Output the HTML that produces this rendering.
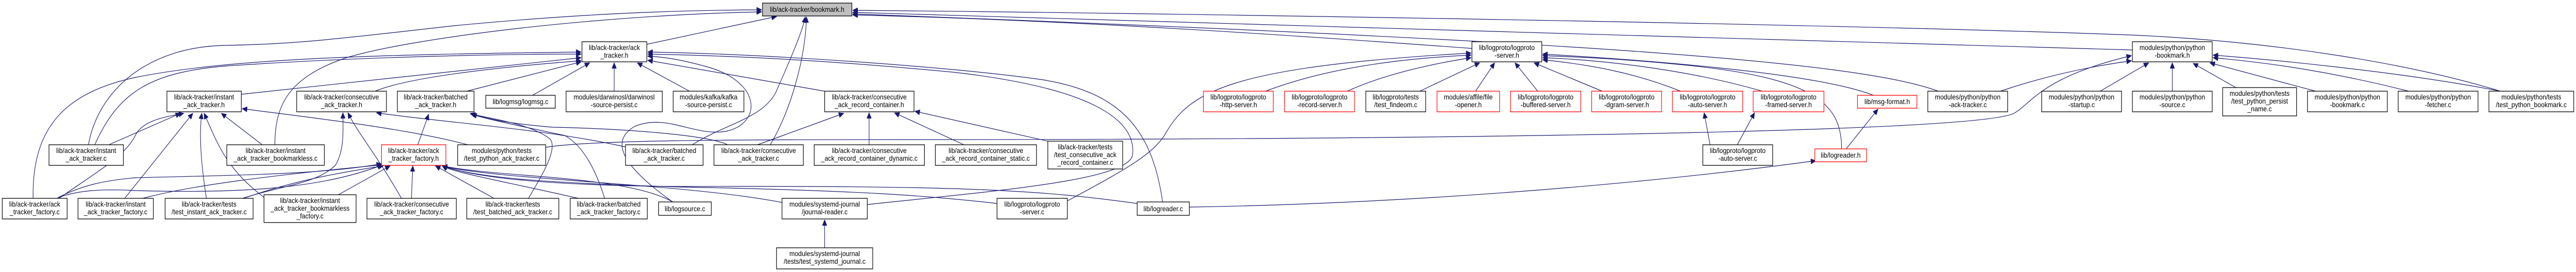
<!DOCTYPE html>
<html><head><meta charset="utf-8"><style>
html,body{margin:0;padding:0;background:#fff;overflow:hidden;width:100%;height:100%;}
svg{display:block;position:absolute;left:0;top:0;width:100vw;height:100vh;}
text{font-family:"Liberation Sans",sans-serif;font-size:14px;fill:#000;}
.n{fill:#fff;stroke:#000;stroke-width:1.3;}
.r{fill:#fff;stroke:#ff0000;stroke-width:1.3;}
.g{fill:#bfbfbf;stroke:#000;stroke-width:1.3;}
path{fill:none;stroke:#191970;stroke-width:1.2;}
</style></head><body>
<svg viewBox="0 0 5679 528" preserveAspectRatio="none" xmlns="http://www.w3.org/2000/svg">
<defs><marker id="a" markerUnits="userSpaceOnUse" markerWidth="12" markerHeight="10" refX="11" refY="5" orient="auto"><path d="M0,0 L11,5 L0,10 z" style="fill:#191970;stroke:#191970;stroke-width:1"/></marker></defs>
<g marker-end="url(#a)">
<path d="M1426,86 L1712,32"/>
<path d="M195,281 C215,180 320,90 500,88 C650,86 750,75 1000,50 C1300,25 1500,20 1679,19"/>
<path d="M606,281 C606,200 640,150 760,113 C900,75 1300,30 1679,23"/>
<path d="M1526,281 C1600,240 1680,230 1710,180 C1740,120 1770,60 1775,33"/>
<path d="M1698,281 C1740,220 1775,120 1778,33"/>
<path d="M5512,177 C5300,120 5000,80 4700,68 C4000,45 2500,25 1880,20"/>
<path d="M4701,97 C4000,80 2500,40 1880,24"/>
<path d="M4273,177 C4100,120 3500,80 1880,27"/>
<path d="M3245,94 C2900,72 2400,40 1880,29"/>
<path d="M532,183 L1281,112"/>
<path d="M827,177 C900,150 1100,130 1281,118"/>
<path d="M1029,177 L1281,120"/>
<path d="M1174,185 L1300,122"/>
<path d="M1354,177 L1354,122"/>
<path d="M1520,177 L1405,122"/>
<path d="M1818,177 L1428,117"/>
<path d="M73,385 C70,250 140,180 300,150 C500,115 800,106 1281,101"/>
<path d="M209,281 C260,180 330,140 500,128 C800,110 1100,105 1281,105"/>
<path d="M2563,392 C2540,250 2470,180 2300,155 C2100,130 1700,105 1428,101"/>
<path d="M1912,397 C2200,370 2490,350 2497,300 C2505,230 2400,170 2100,140 C1800,115 1600,108 1428,105"/>
<path d="M1483,392 C1400,340 1330,280 1400,245 C1470,220 1530,265 1600,255 C1680,240 1680,160 1560,130 C1500,115 1460,110 1428,109"/>
<path d="M240,281 L398,220"/>
<path d="M130,385 C220,330 280,300 300,260 C320,230 380,225 405,220"/>
<path d="M275,385 L425,220"/>
<path d="M455,385 C440,300 440,250 445,220"/>
<path d="M585,385 C500,330 480,280 450,220"/>
<path d="M578,281 L488,220"/>
<path d="M1031,281 C900,250 700,230 534,211"/>
<path d="M535,385 C620,360 700,357 740,320 C760,290 756,250 756,219"/>
<path d="M885,385 C830,300 790,260 767,219"/>
<path d="M1378,285 C1200,250 1000,240 830,219"/>
<path d="M921,281 L945,222"/>
<path d="M1604,281 C1560,262 1380,250 1219,247 C1120,240 1070,230 1037,220"/>
<path d="M1165,385 C1195,340 1230,290 1213,270 C1170,240 1080,230 1037,221"/>
<path d="M1333,385 C1310,320 1280,280 1245,263 C1120,240 1070,230 1040,222"/>
<path d="M127,384 C180,360 230,350 300,345 C500,340 700,340 841,318"/>
<path d="M127,384 C170,370 220,366 300,370 C500,375 700,370 843,320"/>
<path d="M315,385 C420,360 600,340 843,320"/>
<path d="M537,385 C650,350 750,335 845,322"/>
<path d="M742,380 L860,322"/>
<path d="M907,385 L910,322"/>
<path d="M1089,385 L960,322"/>
<path d="M1275,385 C1100,350 1000,335 975,322"/>
<path d="M1483,392 C1380,340 1100,345 975,322"/>
<path d="M1724,393 C1500,355 1100,350 975,322"/>
<path d="M2198,395 C2050,380 1900,370 1500,363 C1200,355 1050,345 975,322"/>
<path d="M2507,395 C2300,370 2150,360 1500,362 C1200,360 1050,345 975,322"/>
<path d="M1916,281 L1916,219"/>
<path d="M2125,281 L1972,219"/>
<path d="M2310,274 L2017,216"/>
<path d="M1670,281 L1860,220"/>
<path d="M2790,177 C2900,140 3050,115 3243,107"/>
<path d="M2970,177 C3050,145 3150,125 3243,112"/>
<path d="M3130,177 L3262,122"/>
<path d="M3253,177 L3295,122"/>
<path d="M3390,177 L3340,122"/>
<path d="M3532,177 L3382,122"/>
<path d="M3705,177 C3600,140 3500,125 3401,116"/>
<path d="M3885,177 C3700,130 3500,115 3401,112"/>
<path d="M4130,185 C4000,140 3600,115 3401,105"/>
<path d="M4060,289 C4060,200 4000,150 3700,125 C3550,112 3450,110 3401,108"/>
<path d="M2353,390 C2480,330 2540,300 2567,263 C2620,180 2700,130 3243,103"/>
<path d="M3770,281 L3757,219"/>
<path d="M3830,281 L3868,219"/>
<path d="M4070,289 L4140,212"/>
<path d="M2622,402 C3100,395 3600,360 4003,312"/>
<path d="M1203,286 C1300,272 1600,271 2000,271 C3000,271 4350,260 4440,220 C4480,200 4500,150 4699,108"/>
<path d="M4410,177 C4500,150 4600,130 4699,118"/>
<path d="M4630,177 L4737,122"/>
<path d="M4789,177 L4789,122"/>
<path d="M4929,170 L4835,123"/>
<path d="M5105,177 L4872,122"/>
<path d="M5310,177 C5100,130 4950,118 4879,112"/>
<path d="M5512,177 C5300,140 5000,115 4879,107"/>
<path d="M1818,481 L1818,427"/>
</g>

<rect class="g" x="1681" y="6" width="197" height="25"/><text x="1779.5" y="23" text-anchor="middle">lib/ack-tracker/bookmark.h</text>

<g text-anchor="middle">
<rect class="n" x="1283" y="81" width="143" height="39"/><text x="1354.5" y="97">lib/ack-tracker/ack</text><text x="1354.5" y="112">_tracker.h</text>
<rect class="n" x="3245" y="81" width="154" height="39"/><text x="3322" y="97">lib/logproto/logproto</text><text x="3322" y="112">-server.h</text>
<rect class="n" x="4701" y="81" width="176" height="39"/><text x="4789" y="97">modules/python/python</text><text x="4789" y="112">-bookmark.h</text>

<rect class="n" x="368" y="177" width="164" height="40"/><text x="450" y="193">lib/ack-tracker/instant</text><text x="450" y="208">_ack_tracker.h</text>
<rect class="n" x="654" y="177" width="198" height="40"/><text x="753" y="193">lib/ack-tracker/consecutive</text><text x="753" y="208">_ack_tracker.h</text>
<rect class="n" x="876" y="177" width="169" height="40"/><text x="960.5" y="193">lib/ack-tracker/batched</text><text x="960.5" y="208">_ack_tracker.h</text>
<rect class="n" x="1071" y="185" width="153" height="25"/><text x="1147.5" y="202">lib/logmsg/logmsg.c</text>
<rect class="n" x="1248" y="177" width="212" height="40"/><text x="1354" y="193">modules/darwinosl/darwinosl</text><text x="1354" y="208">-source-persist.c</text>
<rect class="n" x="1484" y="177" width="156" height="40"/><text x="1562" y="193">modules/kafka/kafka</text><text x="1562" y="208">-source-persist.c</text>
<rect class="n" x="1818" y="177" width="197" height="40"/><text x="1916.5" y="193">lib/ack-tracker/consecutive</text><text x="1916.5" y="208">_ack_record_container.h</text>
<rect class="r" x="2653" y="177" width="154" height="40"/><text x="2730" y="193">lib/logproto/logproto</text><text x="2730" y="208">-http-server.h</text>
<rect class="r" x="2832" y="177" width="154" height="40"/><text x="2909" y="193">lib/logproto/logproto</text><text x="2909" y="208">-record-server.h</text>
<rect class="n" x="3011" y="177" width="132" height="40"/><text x="3077" y="193">lib/logproto/tests</text><text x="3077" y="208">/test_findeom.c</text>
<rect class="r" x="3168" y="177" width="138" height="40"/><text x="3237" y="193">modules/affile/file</text><text x="3237" y="208">-opener.h</text>
<rect class="r" x="3330" y="177" width="155" height="40"/><text x="3407.5" y="193">lib/logproto/logproto</text><text x="3407.5" y="208">-buffered-server.h</text>
<rect class="r" x="3509" y="177" width="154" height="40"/><text x="3586" y="193">lib/logproto/logproto</text><text x="3586" y="208">-dgram-server.h</text>
<rect class="r" x="3687" y="177" width="155" height="40"/><text x="3764.5" y="193">lib/logproto/logproto</text><text x="3764.5" y="208">-auto-server.h</text>
<rect class="r" x="3865" y="177" width="156" height="40"/><text x="3943" y="193">lib/logproto/logproto</text><text x="3943" y="208">-framed-server.h</text>
<rect class="r" x="4095" y="185" width="131" height="25"/><text x="4160.5" y="202">lib/msg-format.h</text>
<rect class="n" x="4250" y="177" width="176" height="40"/><text x="4338" y="193">modules/python/python</text><text x="4338" y="208">-ack-tracker.c</text>
<rect class="n" x="4501" y="177" width="176" height="40"/><text x="4589" y="193">modules/python/python</text><text x="4589" y="208">-startup.c</text>
<rect class="n" x="4701" y="177" width="176" height="40"/><text x="4789" y="193">modules/python/python</text><text x="4789" y="208">-source.c</text>
<rect class="n" x="4900" y="170" width="163" height="55"/><text x="4981.5" y="186">modules/python/tests</text><text x="4981.5" y="201">/test_python_persist</text><text x="4981.5" y="216">_name.c</text>
<rect class="n" x="5087" y="177" width="176" height="40"/><text x="5175" y="193">modules/python/python</text><text x="5175" y="208">-bookmark.c</text>
<rect class="n" x="5287" y="177" width="176" height="40"/><text x="5375" y="193">modules/python/python</text><text x="5375" y="208">-fetcher.c</text>
<rect class="n" x="5487" y="177" width="187" height="40"/><text x="5580.5" y="193">modules/python/tests</text><text x="5580.5" y="208">/test_python_bookmark.c</text>

<rect class="n" x="108" y="281" width="164" height="40"/><text x="190" y="297">lib/ack-tracker/instant</text><text x="190" y="312">_ack_tracker.c</text>
<rect class="n" x="500" y="281" width="215" height="40"/><text x="607.5" y="297">lib/ack-tracker/instant</text><text x="607.5" y="312">_ack_tracker_bookmarkless.c</text>
<rect class="r" x="841" y="281" width="142" height="40"/><text x="912" y="297">lib/ack-tracker/ack</text><text x="912" y="312">_tracker_factory.h</text>
<rect class="n" x="1009" y="281" width="194" height="40"/><text x="1106" y="297">modules/python/tests</text><text x="1106" y="312">/test_python_ack_tracker.c</text>
<rect class="n" x="1379" y="281" width="171" height="40"/><text x="1464.5" y="297">lib/ack-tracker/batched</text><text x="1464.5" y="312">_ack_tracker.c</text>
<rect class="n" x="1574" y="281" width="197" height="40"/><text x="1672.5" y="297">lib/ack-tracker/consecutive</text><text x="1672.5" y="312">_ack_tracker.c</text>
<rect class="n" x="1795" y="281" width="243" height="40"/><text x="1916.5" y="297">lib/ack-tracker/consecutive</text><text x="1916.5" y="312">_ack_record_container_dynamic.c</text>
<rect class="n" x="2062" y="281" width="223" height="40"/><text x="2173.5" y="297">lib/ack-tracker/consecutive</text><text x="2173.5" y="312">_ack_record_container_static.c</text>
<rect class="n" x="2310" y="274" width="165" height="54"/><text x="2392.5" y="290">lib/ack-tracker/tests</text><text x="2392.5" y="305">/test_consecutive_ack</text><text x="2392.5" y="320">_record_container.c</text>
<rect class="n" x="3754" y="281" width="154" height="40"/><text x="3831" y="297">lib/logproto/logproto</text><text x="3831" y="312">-auto-server.c</text>
<rect class="r" x="4001" y="289" width="114" height="25"/><text x="4058" y="306">lib/logreader.h</text>

<rect class="n" x="5" y="385" width="143" height="40"/><text x="76.5" y="401">lib/ack-tracker/ack</text><text x="76.5" y="416">_tracker_factory.c</text>
<rect class="n" x="172" y="385" width="166" height="40"/><text x="255" y="401">lib/ack-tracker/instant</text><text x="255" y="416">_ack_tracker_factory.c</text>
<rect class="n" x="364" y="385" width="194" height="40"/><text x="461" y="401">lib/ack-tracker/tests</text><text x="461" y="416">/test_instant_ack_tracker.c</text>
<rect class="n" x="582" y="378" width="203" height="54"/><text x="683.5" y="394">lib/ack-tracker/instant</text><text x="683.5" y="409">_ack_tracker_bookmarkless</text><text x="683.5" y="424">_factory.c</text>
<rect class="n" x="809" y="385" width="197" height="40"/><text x="907.5" y="401">lib/ack-tracker/consecutive</text><text x="907.5" y="416">_ack_tracker_factory.c</text>
<rect class="n" x="1029" y="385" width="203" height="40"/><text x="1130.5" y="401">lib/ack-tracker/tests</text><text x="1130.5" y="416">/test_batched_ack_tracker.c</text>
<rect class="n" x="1257" y="385" width="170" height="40"/><text x="1342" y="401">lib/ack-tracker/batched</text><text x="1342" y="416">_ack_tracker_factory.c</text>
<rect class="n" x="1452" y="392" width="116" height="26"/><text x="1510" y="410">lib/logsource.c</text>
<rect class="n" x="1724" y="385" width="188" height="40"/><text x="1818" y="401">modules/systemd-journal</text><text x="1818" y="416">/journal-reader.c</text>
<rect class="n" x="2198" y="385" width="155" height="40"/><text x="2275.5" y="401">lib/logproto/logproto</text><text x="2275.5" y="416">-server.c</text>
<rect class="n" x="2507" y="392" width="115" height="26"/><text x="2564.5" y="410">lib/logreader.c</text>
<rect class="n" x="1712" y="481" width="212" height="41"/><text x="1818" y="497">modules/systemd-journal</text><text x="1818" y="512">/tests/test_systemd_journal.c</text>
</g>
</svg>
</body></html>
